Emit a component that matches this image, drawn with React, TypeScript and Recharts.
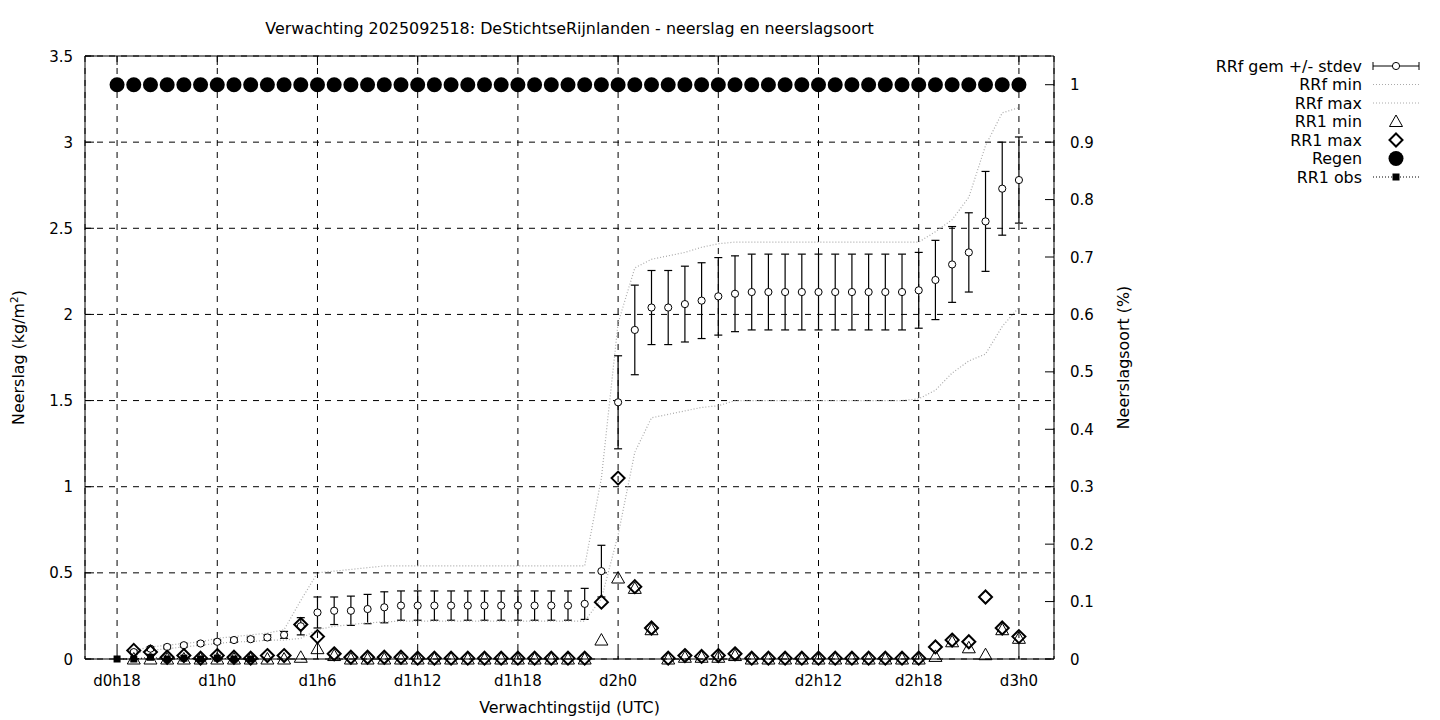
import React from "react";
import {
  ComposedChart,
  XAxis,
  YAxis,
  CartesianGrid,
  Line,
  Scatter,
  ErrorBar,
  ReferenceLine,
} from "recharts";

// forecast hours (lead time from d0h0)
const hours = [
  18, 19, 20, 21, 22, 23, 24, 25, 26, 27, 28, 29, 30, 31, 32, 33, 34, 35, 36, 37, 38, 39, 40, 41, 42, 43,
  44, 45, 46, 47, 48, 49, 50, 51, 52, 53, 54, 55, 56, 57, 58, 59, 60, 61, 62, 63, 64, 65, 66, 67, 68, 69,
  70, 71, 72,
];

const rrfMean = [
  null, 0.04, 0.06, 0.07, 0.08, 0.09,
  0.1, 0.11, 0.115, 0.125, 0.14, 0.19,
  0.27, 0.28, 0.28, 0.29, 0.3, 0.31,
  0.31, 0.31, 0.31, 0.31, 0.31, 0.31,
  0.31, 0.31, 0.31, 0.31, 0.32, 0.51,
  1.49, 1.91, 2.04, 2.04, 2.06, 2.08,
  2.105, 2.12, 2.13, 2.13, 2.13, 2.13,
  2.13, 2.13, 2.13, 2.13, 2.13, 2.13,
  2.14, 2.2, 2.29, 2.36, 2.54, 2.73,
  2.78,
];

const rrfStd = [
  null, 0.01, 0.01, 0.01, 0.01, 0.01,
  0.01, 0.012, 0.012, 0.015, 0.02, 0.05,
  0.09, 0.08, 0.085, 0.085, 0.09, 0.085,
  0.085, 0.085, 0.085, 0.085, 0.085, 0.085,
  0.085, 0.085, 0.085, 0.085, 0.09, 0.15,
  0.27, 0.26, 0.215, 0.215, 0.22, 0.22,
  0.225, 0.22, 0.22, 0.22, 0.22, 0.22,
  0.22, 0.22, 0.22, 0.22, 0.22, 0.22,
  0.22, 0.23, 0.22, 0.23, 0.29, 0.27,
  0.25,
];

const rrfMin = [
  null, 0.03, 0.05, 0.06, 0.07, 0.08,
  0.09, 0.1, 0.1, 0.11, 0.11, 0.12,
  0.17, 0.19, 0.2, 0.21, 0.215, 0.22,
  0.22, 0.22, 0.22, 0.22, 0.22, 0.22,
  0.22, 0.22, 0.22, 0.22, 0.22, 0.35,
  0.72, 1.2, 1.4, 1.42, 1.44, 1.46,
  1.47, 1.5, 1.5, 1.5, 1.5, 1.5,
  1.5, 1.5, 1.5, 1.5, 1.5, 1.5,
  1.51, 1.56, 1.66, 1.73, 1.77, 1.93,
  2.04,
];

const rrfMax = [
  null, 0.05, 0.07, 0.08, 0.09, 0.1,
  0.12, 0.13, 0.14, 0.15, 0.17, 0.34,
  0.5, 0.51, 0.52, 0.53, 0.54, 0.54,
  0.54, 0.54, 0.54, 0.54, 0.54, 0.54,
  0.54, 0.54, 0.54, 0.54, 0.54, 1.05,
  1.95, 2.27, 2.32, 2.34, 2.36, 2.39,
  2.41, 2.42, 2.42, 2.42, 2.42, 2.42,
  2.42, 2.42, 2.42, 2.42, 2.42, 2.42,
  2.42, 2.48, 2.55, 2.68, 2.98, 3.17,
  3.2,
];

const rr1Min = [
  null, 0, 0, 0, 0, 0,
  0, 0, 0, 0, 0, 0.01,
  0.06, 0.02, 0, 0, 0, 0,
  0, 0, 0, 0, 0, 0,
  0, 0, 0, 0, 0, 0.11,
  0.47, 0.41, 0.17, 0, 0.01, 0.01,
  0.01, 0.02, 0, 0, 0, 0,
  0, 0, 0, 0, 0, 0,
  0, 0.015, 0.1, 0.065, 0.025, 0.17,
  0.12,
];

const rr1Max = [
  null, 0.05, 0.04, 0.01, 0.02, 0.005,
  0.02, 0.01, 0.005, 0.02, 0.02, 0.2,
  0.13, 0.03, 0.01, 0.01, 0.01, 0.01,
  0.005, 0.005, 0.005, 0.005, 0.005, 0.005,
  0.005, 0.005, 0.005, 0.005, 0.005, 0.33,
  1.05, 0.42, 0.18, 0.005, 0.02, 0.015,
  0.02, 0.03, 0.005, 0.005, 0.005, 0.005,
  0.005, 0.005, 0.005, 0.005, 0.005, 0.005,
  0.005, 0.07, 0.11, 0.1, 0.36, 0.18,
  0.13,
];

// fraction of members with rain (right axis)
const regen = [
  1, 1, 1, 1, 1, 1, 1, 1, 1, 1, 1, 1, 1, 1, 1, 1, 1, 1, 1, 1, 1, 1, 1, 1, 1, 1, 1, 1,
  1, 1, 1, 1, 1, 1, 1, 1, 1, 1, 1, 1, 1, 1, 1, 1, 1, 1, 1, 1, 1, 1, 1, 1, 1, 1, 1,
];

const rr1Obs = [
  0, 0, 0.01, 0, 0.005, 0,
  0.005, 0, 0, null, null, null,
  null, null, null, null, null, null,
  null, null, null, null, null, null,
  null, null, null, null, null, null,
  null, null, null, null, null, null,
  null, null, null, null, null, null,
  null, null, null, null, null, null,
  null, null, null, null, null, null,
  null,
];

const xTicks = [18, 24, 30, 36, 42, 48, 54, 60, 66, 72];
const xTickLabels = ["d0h18", "d1h0", "d1h6", "d1h12", "d1h18", "d2h0", "d2h6", "d2h12", "d2h18", "d3h0"];
const yTicks = [0, 0.5, 1, 1.5, 2, 2.5, 3, 3.5];
const y2Ticks = [0, 0.1, 0.2, 0.3, 0.4, 0.5, 0.6, 0.7, 0.8, 0.9, 1];

const legendItems = ["RRf gem +/- stdev", "RRf min", "RRf max", "RR1 min", "RR1 max", "Regen", "RR1 obs"];

const data = hours.map((h, i) => ({
  h,
  mean: rrfMean[i],
  std: rrfStd[i],
  min: rrfMin[i],
  max: rrfMax[i],
  rmin: rr1Min[i],
  rmax: rr1Max[i],
  regen: regen[i],
  obs: rr1Obs[i],
}));

const PLOT = { left: 85, right: 1054, top: 56, bottom: 659 };
const FONT = "'DejaVu Sans', sans-serif";
const TL = 9; // inward tick length
const GRAY = "#aaa";
const LABEL_SIZE = 15.9;

const OpenCircle = ({ cx, cy }: any) => (
  <circle cx={cx} cy={cy} r={3.6} fill="#fff" stroke="#000" strokeWidth={1} />
);
const Triangle = ({ cx, cy }: any) => (
  <path d={`M${cx - 6.5},${cy + 5} L${cx + 6.5},${cy + 5} L${cx},${cy - 6.5} Z`} fill="none" stroke="#000" strokeWidth={1} />
);
const Diamond = ({ cx, cy }: any) => (
  <path d={`M${cx},${cy - 6.5} L${cx + 6.5},${cy} L${cx},${cy + 6.5} L${cx - 6.5},${cy} Z`} fill="none" stroke="#000" strokeWidth={2} />
);
const Dot = ({ cx, cy }: any) => <circle cx={cx} cy={cy} r={7.5} fill="#000" />;
const Square = ({ cx, cy }: any) => <rect x={cx - 3.5} y={cy - 3.5} width={7} height={7} fill="#000" />;

function XTick({ x, payload }: any) {
  const idx = xTicks.indexOf(payload.value);
  return (
    <g>
      <line x1={x} x2={x} y1={PLOT.bottom} y2={PLOT.bottom - TL} stroke="#000" />
      <line x1={x} x2={x} y1={PLOT.top} y2={PLOT.top + TL} stroke="#000" />
      <text x={x} y={PLOT.bottom + 27} textAnchor="middle" fontSize={15} fontFamily={FONT} fill="#000">
        {xTickLabels[idx]}
      </text>
    </g>
  );
}

function YTick({ y, payload }: any) {
  return (
    <g>
      <line x1={PLOT.left} x2={PLOT.left + TL} y1={y} y2={y} stroke="#000" />
      <text x={PLOT.left - 12} y={y + 5.5} textAnchor="end" fontSize={15} fontFamily={FONT} fill="#000">
        {payload.value}
      </text>
    </g>
  );
}

function Y2Tick({ y, payload }: any) {
  return (
    <g>
      <line x1={PLOT.right} x2={PLOT.right - TL} y1={y} y2={y} stroke="#000" />
      <text x={PLOT.right + 16} y={y + 5.5} textAnchor="start" fontSize={15} fontFamily={FONT} fill="#000">
        {payload.value}
      </text>
    </g>
  );
}

const XTitle = () => (
  <text x={(PLOT.left + PLOT.right) / 2} y={713} textAnchor="middle" fontSize={LABEL_SIZE} fontFamily={FONT} fill="#000">
    Verwachtingstijd (UTC)
  </text>
);
const YTitle = () => (
  <text transform={`translate(24,${(PLOT.top + PLOT.bottom) / 2}) rotate(-90)`} textAnchor="middle" fontSize={LABEL_SIZE} fontFamily={FONT} fill="#000">
    Neerslag (kg/m<tspan fontSize={10.5} dy={-6}>2</tspan>
    <tspan dy={6}>)</tspan>
  </text>
);
const Y2Title = () => (
  <text transform={`translate(1129,${(PLOT.top + PLOT.bottom) / 2}) rotate(-90)`} textAnchor="middle" fontSize={LABEL_SIZE} fontFamily={FONT} fill="#000">
    Neerslagsoort (%)
  </text>
);

function LegendSymbol({ i, cx, cy }: { i: number; cx: number; cy: number }) {
  const x1 = cx - 23;
  const x2 = cx + 23;
  switch (i) {
    case 0:
      return (
        <g>
          <line x1={x1} x2={x2} y1={cy} y2={cy} stroke="#000" />
          <line x1={x1} x2={x1} y1={cy - 4} y2={cy + 4} stroke="#000" />
          <line x1={x2} x2={x2} y1={cy - 4} y2={cy + 4} stroke="#000" />
          <OpenCircle cx={cx} cy={cy} />
        </g>
      );
    case 1:
    case 2:
      return <line x1={x1} x2={x2} y1={cy} y2={cy} stroke={GRAY} strokeDasharray="1 2" />;
    case 3:
      return <Triangle cx={cx} cy={cy} />;
    case 4:
      return <Diamond cx={cx} cy={cy} />;
    case 5:
      return <Dot cx={cx} cy={cy} />;
    default:
      return (
        <g>
          <line x1={x1} x2={x2} y1={cy} y2={cy} stroke="#000" strokeDasharray="1 2" />
          <Square cx={cx} cy={cy} />
        </g>
      );
  }
}

export default function App() {
  const meanData = data.filter((d) => d.mean != null);
  const rminData = data.filter((d) => d.rmin != null);
  const rmaxData = data.filter((d) => d.rmax != null);

  return (
    <div style={{ position: "absolute", left: 0, top: 0, width: 1440, height: 720, background: "#fff" }}>
      <ComposedChart
        width={1440}
        height={720}
        data={data}
        margin={{ top: PLOT.top, right: 1440 - PLOT.right - 60, bottom: 720 - PLOT.bottom - 30, left: PLOT.left - 60 }}
        style={{ fontFamily: FONT }}
      >
        <CartesianGrid yAxisId="left" stroke="#000" strokeDasharray="6 6" strokeWidth={1} />
        <XAxis
          dataKey="h"
          type="number"
          domain={[16.08, 74.1]}
          ticks={xTicks}
          height={30}
          tickSize={0}
          tickMargin={0}
          tickLine={false}
          axisLine={{ stroke: "#000" }}
          tick={<XTick />}
          interval={0}
          label={<XTitle />}
        />
        <YAxis
          yAxisId="left"
          domain={[0, 3.5]}
          ticks={yTicks}
          width={60}
          tickSize={0}
          tickLine={false}
          axisLine={{ stroke: "#000" }}
          tick={<YTick />}
          interval={0}
          label={<YTitle />}
        />
        <YAxis
          yAxisId="right"
          orientation="right"
          domain={[0, 1.05]}
          ticks={y2Ticks}
          width={60}
          tickSize={0}
          tickLine={false}
          axisLine={{ stroke: "#000" }}
          tick={<Y2Tick />}
          interval={0}
          label={<Y2Title />}
        />
        <ReferenceLine yAxisId="left" y={3.5} stroke="#000" strokeWidth={1} />

        <Scatter
          yAxisId="left"
          data={meanData}
          dataKey="mean"
          isAnimationActive={false}
          shape={(p: any) => <OpenCircle cx={p.cx} cy={p.cy} />}
        >
          <ErrorBar dataKey="std" direction="y" width={4} stroke="#000" strokeWidth={1.2} />
        </Scatter>
        <Line yAxisId="left" type="linear" dataKey="min" stroke={GRAY} strokeWidth={1.2} strokeDasharray="1 2" dot={false} activeDot={false} isAnimationActive={false} />
        <Line yAxisId="left" type="linear" dataKey="max" stroke={GRAY} strokeWidth={1.2} strokeDasharray="1 2" dot={false} activeDot={false} isAnimationActive={false} />
        <Scatter
          yAxisId="left"
          data={rminData}
          dataKey="rmin"
          isAnimationActive={false}
          shape={(p: any) => <Triangle cx={p.cx} cy={p.cy} />}
        />
        <Scatter
          yAxisId="left"
          data={rmaxData}
          dataKey="rmax"
          isAnimationActive={false}
          shape={(p: any) => <Diamond cx={p.cx} cy={p.cy} />}
        />
        <Scatter
          yAxisId="right"
          data={data}
          dataKey="regen"
          isAnimationActive={false}
          shape={(p: any) => <Dot cx={p.cx} cy={p.cy} />}
        />
        <Line
          yAxisId="left"
          type="linear"
          dataKey="obs"
          stroke="#000"
          strokeDasharray="1 2"
          isAnimationActive={false}
          activeDot={false}
          dot={(p: any) =>
            p.value == null || p.cy == null ? <g key={p.index} /> : <Square key={p.index} cx={p.cx} cy={p.cy} />
          }
        />
      </ComposedChart>

      <svg width={1440} height={720} style={{ position: "absolute", left: 0, top: 0, pointerEvents: "none" }}>
        <text x={(PLOT.left + PLOT.right) / 2} y={34} textAnchor="middle" fontSize={LABEL_SIZE} fontFamily={FONT} fill="#000">
          Verwachting 2025092518: DeStichtseRijnlanden - neerslag en neerslagsoort
        </text>
        {legendItems.map((name, i) => {
          const cy = 66 + i * 18.5;
          return (
            <g key={name}>
              <text x={1362} y={cy + 5.5} textAnchor="end" fontSize={LABEL_SIZE} fontFamily={FONT} fill="#000">
                {name}
              </text>
              <LegendSymbol i={i} cx={1396} cy={cy} />
            </g>
          );
        })}
      </svg>
    </div>
  );
}
